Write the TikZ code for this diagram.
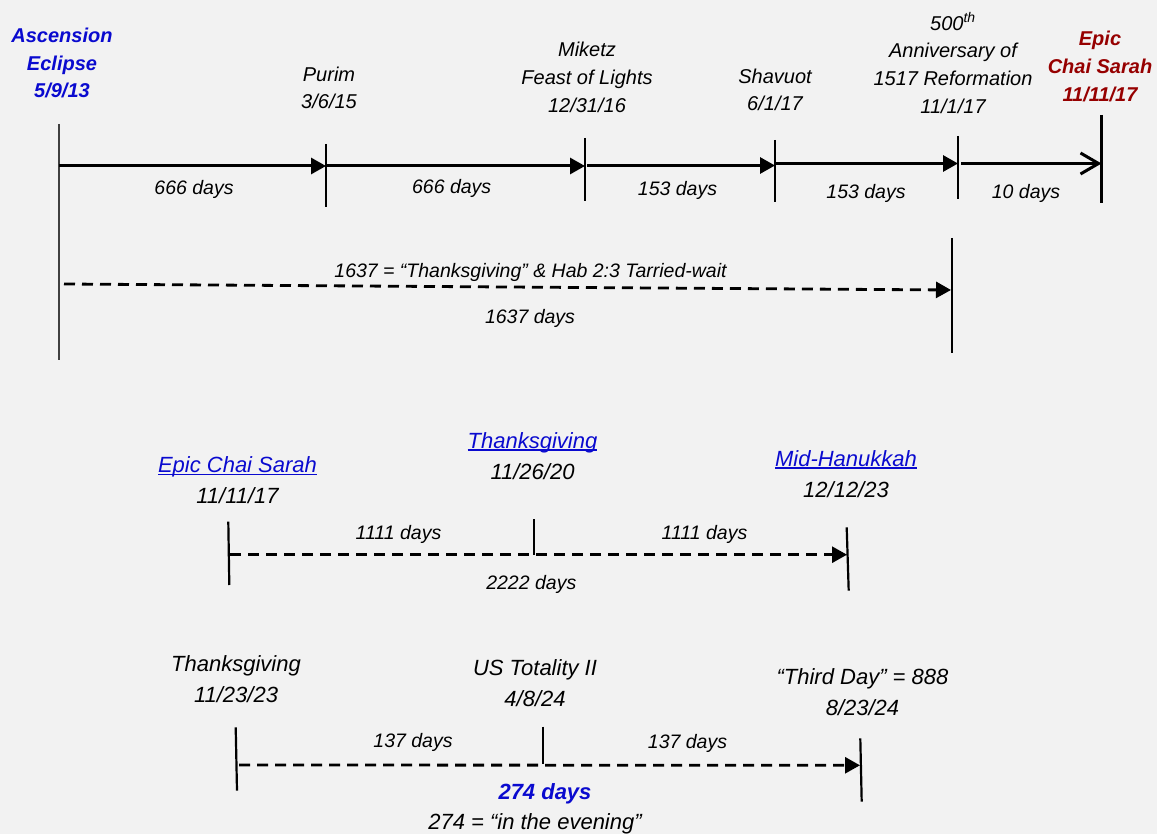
\documentclass[tikz,border=0pt]{standalone}
\usepackage{fontspec}
\setmainfont{Liberation Sans}
\usetikzlibrary{arrows.meta}
\definecolor{bg}{HTML}{F2F2F2}
\definecolor{myblue}{HTML}{0A0ACF}
\definecolor{mydred}{HTML}{960000}
\definecolor{tickgray}{HTML}{404040}
\newcommand\linkul[1]{\setbox0\hbox{#1}\rlap{\copy0}\rule[-2.4pt]{\wd0}{1.3pt}}
\begin{document}
\begin{tikzpicture}[x=1pt,y=-1pt,
  lbl/.style={font=\fontsize{20}{27.7}\selectfont\itshape, align=center, inner sep=0pt},
  lblb/.style={font=\fontsize{22}{31}\selectfont\itshape, align=center, inner sep=0pt},
  boldlbl/.style={font=\fontsize{20}{27.8}\selectfont\bfseries\itshape, align=center, inner sep=0pt},
  days/.style={font=\fontsize{19.5}{24}\selectfont\itshape, inner sep=0pt},
  tickln/.style={line width=2.2pt},
  seg/.style={line width=3pt, -{Triangle[length=15pt,width=16pt]}},
  openseg/.style={line width=3pt, -{Straight Barb[length=18pt,width=21pt]}},
  dseg/.style={line width=2.8pt, dash pattern=on 11pt off 7pt, -{Triangle[length=15pt,width=16pt]}},
]
\fill[bg] (0,0) rectangle (1157,834);
\useasboundingbox (0,0) rectangle (1157,834);

% ---------- top timeline ----------
\coordinate (t0u) at (59,124);   \coordinate (t0d) at (59,360);
\coordinate (t1u) at (326,144);  \coordinate (t1d) at (326,207);
\coordinate (t2u) at (585,138);  \coordinate (t2d) at (585,201);
\coordinate (t3u) at (775,140);  \coordinate (t3d) at (775,202);
\coordinate (t4u) at (958,136);  \coordinate (t4d) at (958,199);
\coordinate (t5u) at (1101.5,115); \coordinate (t5d) at (1101.5,203);
\coordinate (t6u) at (952,238);  \coordinate (t6d) at (952,353);

\draw[tickln, tickgray, line width=1.8pt] (t0u) -- (t0d);
\draw[tickln] (t1u) -- (t1d);
\draw[tickln] (t2u) -- (t2d);
\draw[tickln] (t3u) -- (t3d);
\draw[tickln] (t4u) -- (t4d);
\draw[tickln] (t5u) -- (t5d);
\draw[tickln] (t6u) -- (t6d);

\coordinate (p0) at (59,166);
\coordinate (p1) at (326,166);
\coordinate (p2) at (585,166);
\coordinate (p2b) at (587,165.5);
\coordinate (p3) at (775,165.5);
\coordinate (p3b) at (775,163.5);
\coordinate (p4) at (958,163.5);
\coordinate (p4b) at (961,163.5);
\coordinate (p5) at (1101.5,163.5);

\draw[seg] (p0) -- (p1);
\draw[seg] (p1) -- (p2);
\draw[seg] (p2b) -- (p3);
\draw[seg] (p3b) -- (p4);
\draw[openseg] (p4b) -- (p5);

\coordinate (q0) at (64,284);
\coordinate (q1) at (951,290);
\draw[dseg] (q0) -- (q1);

\node[boldlbl, text=myblue] (asc) at (62,63) {Ascension\\Eclipse\\5/9/13};
\node[lbl] (purim) at (329,88) {Purim\\3/6/15};
\node[lbl] (miketz) at (587,77.3) {Miketz\\Feast of Lights\\12/31/16};
\node[lbl] (shav) at (775,90) {Shavuot\\6/1/17};
\node[lbl] (refo) at (953,63) {500\textsuperscript{th}\\Anniversary of\\1517 Reformation\\11/1/17};
\node[boldlbl, text=mydred] (epic) at (1100,66.7) {Epic\\Chai Sarah\\11/11/17};

\node[days] (d1) at (194,189.5) {666 days};
\node[days] (d2) at (451.7,188.5) {666 days};
\node[days] (d3) at (677.5,190) {153 days};
\node[days] (d4) at (866,193.5) {153 days};
\node[days] (d5) at (1026,193.5) {10 days};

\node[days] (h1) at (530.5,272) {1637 = “Thanksgiving” \& Hab 2:3 Tarried-wait};
\node[days] (h2) at (530,318) {1637 days};

% ---------- middle timeline ----------
\coordinate (m0u) at (228.3,521.7); \coordinate (m0d) at (229.3,585);
\coordinate (m1u) at (534.3,519);   \coordinate (m1d) at (534.3,555);
\coordinate (m2u) at (846.7,527.3); \coordinate (m2d) at (848.7,590.7);
\draw[tickln] (m0u) -- (m0d);
\draw[tickln] (m1u) -- (m1d);
\draw[tickln] (m2u) -- (m2d);

\coordinate (r0) at (230,554.7);
\coordinate (r1) at (847,554.7);
\draw[dseg] (r0) -- (r1);

\node[lblb] (epic2) at (237.5,480.5) {{\color{myblue}\linkul{Epic Chai Sarah}}\\11/11/17};
\node[lblb] (thx1) at (532.5,456) {{\color{myblue}\linkul{Thanksgiving}}\\11/26/20};
\node[lblb] (midh) at (846,474) {{\color{myblue}\linkul{Mid-Hanukkah}}\\12/12/23};

\node[days] (e1) at (398.5,534.7) {1111 days};
\node[days] (e2) at (704.5,534) {1111 days};
\node[days] (e3) at (531.3,584.7) {2222 days};

% ---------- bottom timeline ----------
\coordinate (b0u) at (235.7,727.3); \coordinate (b0d) at (237,790.7);
\coordinate (b1u) at (542.7,726.7); \coordinate (b1d) at (542.7,764);
\coordinate (b2u) at (860.3,738.3); \coordinate (b2d) at (861.7,801.7);
\draw[tickln] (b0u) -- (b0d);
\draw[tickln] (b1u) -- (b1d);
\draw[tickln] (b2u) -- (b2d);

\coordinate (s0) at (239,765);
\coordinate (s1) at (860,765.3);
\draw[dseg] (s0) -- (s1);

\node[lblb] (thx2) at (236,679) {Thanksgiving\\11/23/23};
\node[lblb] (ustot) at (535,683.3) {US Totality II\\4/8/24};
\node[lblb] (third) at (862.5,691.7) {“Third Day” = 888\\8/23/24};

\node[days] (f1) at (413,742) {137 days};
\node[days] (f2) at (687.5,743.7) {137 days};
\node[font=\fontsize{22}{26}\selectfont\bfseries\itshape, text=myblue, inner sep=0pt] (f3) at (545,793.7) {274 days};
\node[font=\fontsize{22}{26}\selectfont\itshape, inner sep=0pt] (f4) at (535,823.7) {274 = “in the evening”};
\end{tikzpicture}
\end{document}
